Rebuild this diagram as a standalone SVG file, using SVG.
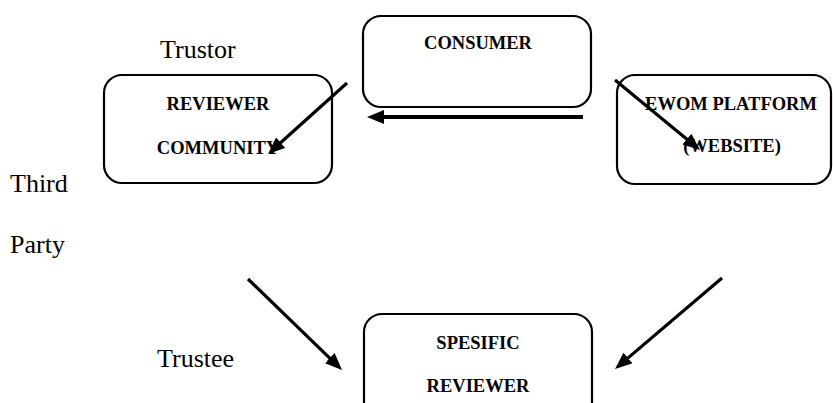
<svg xmlns="http://www.w3.org/2000/svg" width="833" height="403" viewBox="0 0 833 403">
<defs>
<style>
.box{fill:#fff;stroke:#000;stroke-width:2.2}
.lbl{font-family:"Liberation Serif","Times New Roman",serif;font-size:26px;fill:#000}
.nt{font-family:"Liberation Serif","Times New Roman",serif;font-size:18.5px;font-weight:bold;fill:#000;text-anchor:middle}
.arr{stroke:#000;stroke-width:3.2;fill:none;marker-end:url(#ah)}
</style>
<marker id="ah" markerUnits="userSpaceOnUse" markerWidth="18" markerHeight="15" refX="11" refY="7" orient="auto">
<path d="M0,0 L17,7 L0,14 z" fill="#000"/>
</marker>
</defs>
<rect width="833" height="403" fill="#fff"/>
<g id="labels">
<text class="lbl" x="160" y="58">Trustor</text>
<text class="lbl" x="10" y="192">Third</text>
<text class="lbl" x="10" y="253">Party</text>
<text class="lbl" x="157" y="367">Trustee</text>
</g>
<g id="reviewer-community">
<rect class="box" x="104" y="75" width="228" height="108" rx="18"/>
<text class="nt" x="218" y="110">REVIEWER</text>
<text class="nt" x="218" y="154">COMMUNITY</text>
</g>
<g id="consumer">
<rect class="box" x="363" y="16" width="228" height="91" rx="18"/>
<text class="nt" x="478" y="49">CONSUMER</text>
</g>
<g id="ewom-platform">
<rect class="box" x="617" y="75" width="214" height="109" rx="18"/>
<text class="nt" x="731" y="110">EWOM PLATFORM</text>
<text class="nt" x="732" y="152">(WEBSITE)</text>
</g>
<g id="specific-reviewer">
<rect class="box" x="364" y="314" width="228" height="110" rx="18"/>
<text class="nt" x="478" y="349">SPESIFIC</text>
<text class="nt" x="478" y="392">REVIEWER</text>
</g>
<g id="connectors">
<line class="arr" x1="347" y1="83" x2="272.5" y2="150"/>
<line class="arr" x1="583" y1="117" x2="373" y2="117" style="stroke-width:4"/>
<line class="arr" x1="615" y1="80" x2="695.4" y2="146.2"/>
<line class="arr" x1="248" y1="279" x2="337.7" y2="365.8"/>
<line class="arr" x1="722" y1="278" x2="619.6" y2="365.1"/>
</g>
</svg>
